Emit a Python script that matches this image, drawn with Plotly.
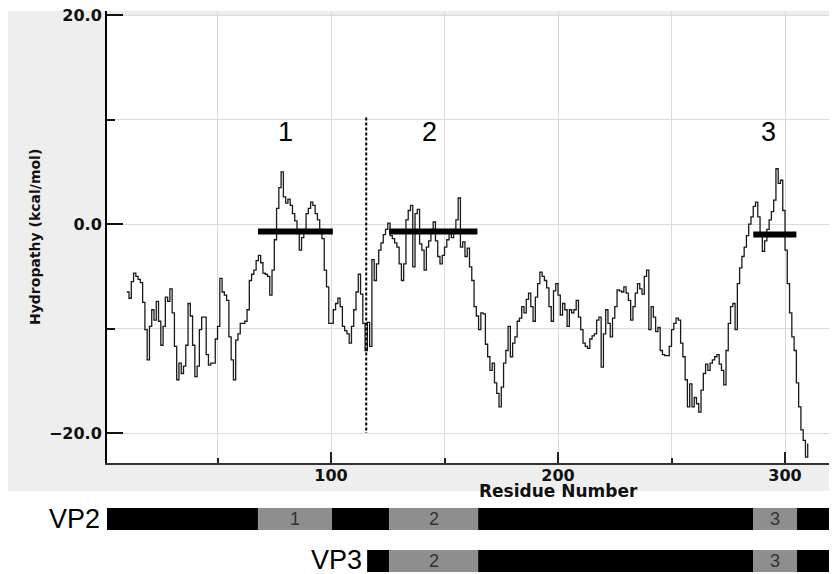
import plotly.graph_objects as go

# ---------------- data ----------------
hydropathy = [
    -6.5, -7.1, -5.5, -4.7, -5.0, -5.3, -5.6, -7.5, -10.1, -13.0,
    -9.8, -8.2, -9.2, -7.4, -9.3, -11.6, -9.8, -7.0, -7.4, -6.2,
    -8.5, -11.7, -14.9, -13.3, -14.3, -13.6, -11.6, -7.6, -8.8, -11.6,
    -14.6, -13.6, -10.1, -8.9, -8.9, -12.5, -13.5, -13.3, -13.3, -11.0,
    -9.8, -5.2, -6.5, -6.8, -7.3, -10.8, -13.0, -14.9, -11.1, -10.5,
    -9.5, -9.5, -9.3, -8.2, -5.4, -4.8, -4.4, -3.5, -3.0, -3.7,
    -4.7, -4.8, -5.0, -6.8, -4.4, -1.5, 1.5, 3.5, 5.0, 2.6,
    2.0, 2.4, 1.8, 1.0, 0.3, -0.9, -2.5, -1.3, -0.5, 1.0,
    1.5, 2.1, 1.8, 1.0, 0.4, -0.5, -1.4, -4.4, -6.0, -9.5,
    -9.5, -8.2, -7.6, -7.1, -7.9, -9.8, -10.2, -10.5, -11.4, -9.8,
    -8.2, -6.5, -4.8, -6.7, -9.5, -12.1, -9.4, -11.7, -3.4, -5.4,
    -3.8, -2.5, -1.8, -1.0, -0.5, 0.1, -1.1, -1.4, -1.8, -2.2,
    -3.8, -5.4, -3.8, 0.4, 1.3, 1.8, -4.1, 1.0, 1.4, -1.9,
    -2.5, -4.4, -2.2, -1.6, -0.5, 0.2, -1.6, -3.1, -3.8, -3.0,
    -2.2, -1.5, -0.8, -1.3, -0.5, 0.4, 2.5, -2.2, -1.7, -3.1,
    -2.3, -4.1, -5.4, -7.9, -8.8, -10.1, -8.5, -8.6, -11.5, -12.7,
    -14.0, -13.3, -15.2, -16.2, -17.5, -15.6, -13.3, -12.1, -9.8, -12.7,
    -11.4, -10.8, -9.3, -9.0, -7.9, -8.5, -7.2, -6.6, -7.9, -9.3,
    -7.0, -5.7, -4.6, -5.0, -5.4, -6.1, -7.9, -9.3, -6.4, -5.7,
    -6.8, -8.7, -7.6, -8.2, -9.8, -8.2, -8.5, -8.2, -7.3, -8.9,
    -10.1, -11.4, -11.7, -11.9, -11.0, -10.7, -10.5, -9.2, -8.9, -13.7,
    -10.5, -8.2, -9.5, -10.8, -9.0, -7.9, -6.3, -6.4, -6.5, -6.0,
    -6.6, -7.3, -9.2, -7.9, -6.6, -5.7, -6.2, -6.7, -5.0, -4.4,
    -10.1, -7.9, -8.9, -10.3, -9.9, -12.1, -12.5, -12.6, -12.6, -11.7,
    -10.1, -9.5, -9.0, -9.2, -11.4, -12.7, -14.9, -17.5, -15.3, -17.5,
    -16.6, -17.2, -18.0, -15.9, -14.3, -13.4, -14.0, -13.3, -13.0, -12.7,
    -12.5, -13.4, -14.0, -15.4, -12.1, -9.5, -7.9, -7.6, -10.1, -5.7,
    -4.2, -3.1, -2.2, -1.1, 0.0, 0.7, 1.7, 2.1, 0.7, -0.9,
    -2.6, -1.6, -0.5, 0.4, 1.2, 2.3, 5.3, 3.9, 4.2, 1.3,
    -2.5, -5.7, -8.5, -10.8, -12.1, -15.2, -17.5, -19.7, -20.7, -22.3,
    -21.0,
]
first_residue = 10
residues = list(range(first_residue, first_residue + len(hydropathy)))

# VP3 start divider
divider_x = [115.5, 115.5]
divider_y = [10.2, -20.0]

# hydrophobic segments
segment_labels = ["1", "2", "3"]
segment_start = [67.8, 125.6, 286.0]
segment_end = [100.8, 164.5, 305.0]
segment_level = [-0.7, -0.7, -1.0]
segment_label_x = [80.0, 143.5, 292.5]
segment_label_y = [8.8, 8.8, 8.8]

# protein maps (residue coordinates)
vp2_bounds = [1.3, 67.8, 100.4, 125.6, 164.8, 285.9, 305.3, 330.0]
vp2_colors = ["black", "gray", "black", "gray", "black", "gray", "black"]
vp2_text = ["", "1", "", "2", "", "3", ""]
vp3_bounds = [115.9, 125.6, 164.8, 285.9, 305.3, 330.0]
vp3_colors = ["black", "gray", "black", "gray", "black"]
vp3_text = ["", "2", "", "3", ""]

x_range = [1.3, 322.9]
y_range = [-22.87, 20.4]

# ---------------- figure ----------------
OFF = 8                      # page body margin offset
W, H = 837 - OFF, 574 - OFF
ML, MT = 107 - OFF, 11 - OFF
PW, PH = W - ML, H - MT


def px_x(p):   # reference page pixel -> paper x
    return (p - OFF - ML) / PW


def px_y(p):   # reference page pixel -> paper y
    return (H - (p - OFF)) / PH


main_bottom = px_y(463)
bars_top = px_y(508)

fig = go.Figure()

fig.add_trace(go.Scatter(
    x=residues, y=hydropathy, mode="lines",
    line=dict(color="#1a1a1a", width=1.3, shape="hv"),
    xaxis="x", yaxis="y", showlegend=False, hoverinfo="skip"))

fig.add_trace(go.Scatter(
    x=divider_x, y=divider_y, mode="lines",
    line=dict(color="black", width=2, dash="3px,2px"),
    xaxis="x", yaxis="y", showlegend=False, hoverinfo="skip"))

for s, e, lv in zip(segment_start, segment_end, segment_level):
    fig.add_trace(go.Scatter(
        x=[s, e], y=[lv, lv], mode="lines",
        line=dict(color="black", width=6),
        xaxis="x", yaxis="y", showlegend=False, hoverinfo="skip"))

color_map = {"black": "#000000", "gray": "#8e8e8e"}


def add_map(bounds, colors, texts, ycen):
    starts = bounds[:-1]
    lengths = [b - a for a, b in zip(bounds[:-1], bounds[1:])]
    fig.add_trace(go.Bar(
        orientation="h", base=starts, x=lengths, y=[ycen] * len(starts),
        width=22, marker=dict(color=[color_map[c] for c in colors], line=dict(width=0)),
        xaxis="x2", yaxis="y2", showlegend=False, hoverinfo="skip"))
    for a, b, t in zip(bounds[:-1], bounds[1:], texts):
        if t:
            fig.add_annotation(x=(a + b) / 2, y=ycen, xref="x2", yref="y2",
                               text=t, showarrow=False,
                               font=dict(family="Liberation Sans", size=18, color="#333333"))


# bar row centres in the bottom panel (px from figure bottom)
vp2_y = 574 - 519
vp3_y = 574 - 561
add_map(vp2_bounds, vp2_colors, vp2_text, vp2_y)
add_map(vp3_bounds, vp3_colors, vp3_text, vp3_y)

fig.add_annotation(x=vp2_bounds[0], y=vp2_y, xref="x2", yref="y2", text="VP2",
                   showarrow=False, xanchor="right", xshift=-6, borderpad=0,
                   font=dict(family="Liberation Sans", size=27, color="black"))
fig.add_annotation(x=vp3_bounds[0], y=vp3_y, xref="x2", yref="y2", text="VP3",
                   showarrow=False, xanchor="right", xshift=-4, yshift=1, borderpad=0,
                   font=dict(family="Liberation Sans", size=27, color="black"))

for t, x, y in zip(segment_labels, segment_label_x, segment_label_y):
    fig.add_annotation(x=x, y=y, xref="x", yref="y", text=t, showarrow=False,
                       font=dict(family="Liberation Sans", size=27, color="black"))

fig.add_annotation(x=200, y=px_y(491), xref="x", yref="paper",
                   text="Residue Number", showarrow=False, yanchor="middle", borderpad=0,
                   font=dict(family="DejaVu Sans", size=17, color="#111111", weight="bold"))
fig.add_annotation(x=px_x(25), y=px_y(237), xref="paper", yref="paper",
                   text="Hydropathy (kcal/mol)", showarrow=False, textangle=-90,
                   font=dict(family="DejaVu Sans", size=14, color="#111111", weight="bold"))

# backgrounds
fig.add_shape(type="rect", xref="paper", yref="paper",
              x0=px_x(8), x1=1.0, y0=px_y(491), y1=1.0,
              fillcolor="#eeeeee", line=dict(width=0), layer="below")
fig.add_shape(type="rect", xref="paper", yref="paper",
              x0=0, x1=1.0, y0=main_bottom, y1=px_y(15),
              fillcolor="white", line=dict(width=0), layer="below")

grid_col = "#dadada"
fig.update_layout(
    width=W, height=H,
    margin=dict(l=ML, r=0, t=MT, b=0, autoexpand=False),
    paper_bgcolor="white", plot_bgcolor="white",
    barmode="overlay",
    xaxis=dict(domain=[0, 1], anchor="y", range=x_range,
               tick0=0, dtick=100, ticks="inside", ticklen=11, tickwidth=2, tickcolor="#222",
               showgrid=True, gridcolor=grid_col, gridwidth=1,
               minor=dict(dtick=50, tick0=0, ticks="inside", ticklen=5, tickwidth=2,
                          tickcolor="#222", showgrid=True, gridcolor=grid_col),
               showline=True, linecolor="#333333", linewidth=2, zeroline=False,
               ticklabelstandoff=-3,
               tickfont=dict(family="DejaVu Sans", size=16, color="#111111", weight="bold")),
    yaxis=dict(domain=[main_bottom, 1], anchor="x", range=y_range,
               tick0=0, dtick=20, tickformat=".1f", ticks="inside", ticklen=16, tickwidth=2,
               tickcolor="#111", showgrid=True, gridcolor=grid_col, gridwidth=1,
               minor=dict(dtick=10, tick0=0, ticks="inside", ticklen=8, tickwidth=2,
                          tickcolor="#111", showgrid=True, gridcolor=grid_col),
               showline=True, linecolor="black", linewidth=2, zeroline=False,
               ticklabelstandoff=0, ticklabeloverflow="allow",
               tickfont=dict(family="DejaVu Sans", size=16, color="#111111", weight="bold")),
    xaxis2=dict(domain=[0, 1], anchor="y2", matches="x", visible=False),
    yaxis2=dict(domain=[0, bars_top], anchor="x2", range=[0, 574 - 508], visible=False),
)

fig.write_html("out.html")
